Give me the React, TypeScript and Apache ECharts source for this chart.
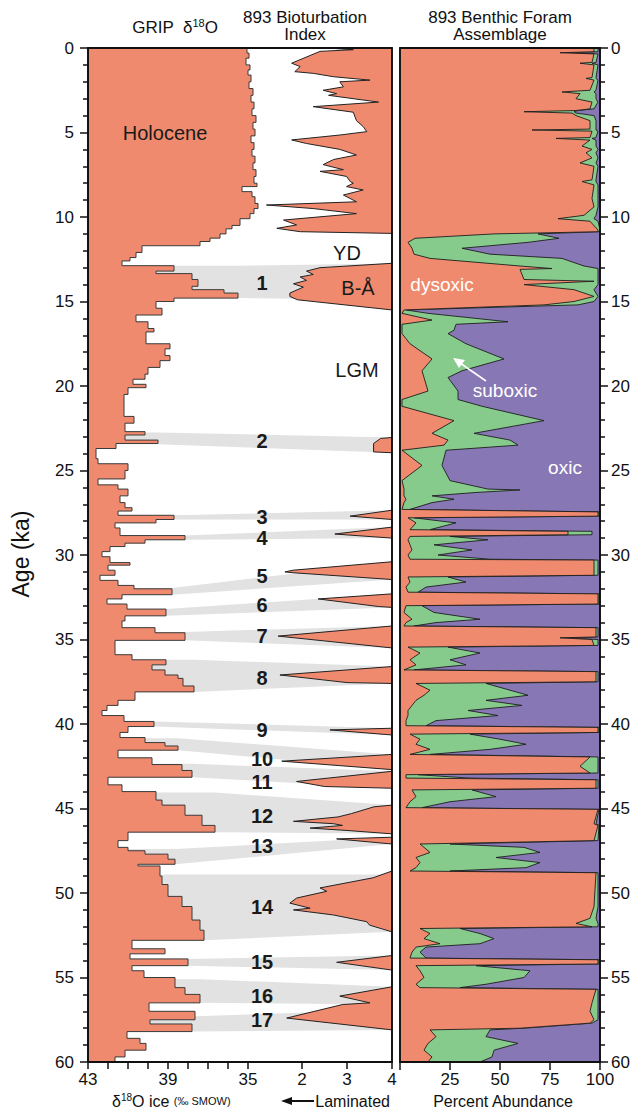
import React, { useEffect, useRef } from "react";
import * as echarts from "echarts";

// ---------- axis ranges ----------
const AGE_MIN = 0;
const AGE_MAX = 60;
const D18O_LEFT = 43; // value at left edge of the left panel (sign omitted)
const D18O_RIGHT = 27.8; // value at right edge of the left panel
const BIOT_RIGHT = 4;
const BIOT_LEFT = 4 - 304 / 45;

const d18oTicks = [43, 42, 41, 40, 39, 38, 37, 36, 35];
const d18oTickLabels = [43, 39, 35];
const biotTicks = [2, 3, 4];
const ageTickInterval = 5;

// ---------- GRIP δ18O (step start age, ka ; value ‰, sign omitted) ----------
const gripAge = [
  0, 0.3, 0.6, 1.0, 1.3, 1.6, 2.0, 2.4, 2.8, 3.2, 3.6, 4.0, 4.4, 4.8, 5.2, 5.6, 6.0, 6.4, 6.8, 7.2, 7.6, 8.0, 8.2, 8.5, 8.8,
  9.2, 9.5, 9.8, 10.1, 10.5, 10.7, 11.0, 11.25, 11.45, 11.7, 12.1, 12.4, 12.6, 12.88, 13.2, 13.35, 13.7, 14.1, 14.3, 14.5,
  14.8, 15.0, 15.4, 15.8, 16.2, 16.6, 16.8, 17.5, 17.8, 18.2, 18.5, 18.9, 19.3, 19.6, 19.9, 20.1, 20.5, 21.8, 22.2, 22.7,
  22.9, 23.2, 23.4, 23.7, 24.3, 24.6, 25.0, 25.5, 25.85, 26.1, 26.5, 26.9, 27.2, 27.4, 27.65, 27.9, 28.1, 28.4, 28.85, 29.1,
  29.3, 29.5, 29.8, 30.1, 30.45, 30.6, 30.9, 31.2, 31.5, 31.8, 32.0, 32.35, 32.6, 32.9, 33.2, 33.6, 33.9, 34.3, 34.6, 35.05,
  35.9, 36.2, 36.5, 36.8, 37.1, 37.3, 37.75, 38.1, 38.6, 38.9, 39.2, 39.5, 39.85, 40.15, 40.5, 40.8, 41.1, 41.3, 41.55, 42.0,
  42.4, 42.75, 43.15, 43.6, 44.0, 44.5, 44.8, 45.4, 46.0, 46.4, 46.9, 47.3, 47.5, 47.7, 48.0, 48.3, 48.4, 49.0, 49.5, 50.2,
  50.8, 51.6, 52.2, 52.8, 53.3, 53.6, 53.9, 54.3, 54.6, 55.0, 55.6, 56.0, 56.5, 57.0, 57.5, 57.75, 58.2, 58.6, 58.9, 59.3,
  59.7,
];
const gripD18O = [
  35.05, 34.95, 35.1, 34.9, 35.0, 34.85, 34.95, 34.75, 34.85, 34.7, 34.8, 34.6, 34.75, 34.65, 34.85, 34.7, 34.8, 34.65, 34.75,
  34.6, 34.7, 34.55, 35.3, 34.8, 34.65, 34.5, 34.7, 34.9, 35.4, 35.8, 36.1, 36.4, 36.9, 37.4, 40.3, 40.6, 40.9, 41.3, 38.7,
  39.6, 37.8, 37.5, 37.8, 36.2, 35.5, 38.7, 39.6, 39.3, 40.6, 40.0, 39.7, 40.1, 38.9, 39.15, 38.9, 39.4, 40.0, 40.15, 40.75,
  40.1, 41.0, 41.2, 40.7, 41.15, 40.15, 41.15, 39.5, 41.6, 42.6, 42.5, 41.0, 41.15, 42.5, 41.5, 41.0, 41.4, 41.15, 40.8, 41.5,
  38.7, 39.6, 41.65, 41.4, 38.15, 40.15, 41.15, 41.9, 42.3, 41.9, 40.9, 42.0, 41.65, 42.4, 41.5, 40.7, 38.8, 41.3, 42.05,
  41.05, 39.1, 41.15, 41.3, 39.65, 38.15, 41.65, 40.8, 39.1, 39.8, 39.15, 38.5, 38.25, 37.7, 40.65, 41.5, 42.05, 42.3, 41.2,
  39.7, 41.0, 41.4, 40.15, 39.15, 38.5, 41.5, 39.8, 38.3, 37.8, 42.0, 41.3, 39.6, 39.3, 38.15, 37.3, 36.65, 41.0, 41.5, 41.0,
  40.15, 39.0, 38.65, 40.5, 39.4, 39.3, 39.0, 38.3, 37.8, 37.4, 37.2, 40.8, 39.15, 40.9, 38.0, 40.8, 40.2, 38.65, 38.15, 37.4,
  39.95, 37.65, 39.9, 37.8, 41.05, 40.4, 40.1, 41.15, 41.65,
];

// ---------- 893 Bioturbation index (age ka ; index) ----------
const biotAge = [
  0, 0.1, 0.2, 0.9, 1.1, 1.4, 1.5, 1.7, 1.9, 2.0, 2.3, 2.5, 2.7, 2.8, 3.2, 3.47, 3.8, 4.3, 4.65, 4.95, 5.15, 5.44, 5.65, 6.0,
  6.33, 6.6, 6.9, 7.2, 7.3, 7.6, 7.9, 8.0, 8.2, 8.4, 8.7, 9.1, 9.29, 9.5, 9.8, 10.18, 10.47, 10.67, 10.87, 10.97, 12.74, 13.0,
  13.2, 13.4, 13.55, 13.75, 13.95, 14.15, 14.5, 14.7, 14.9, 15.5, 23.05, 23.1, 23.4, 23.9, 23.95, 27.35, 27.7, 27.9, 28.35,
  28.76, 29.0, 30.4, 30.9, 31.0, 31.05, 31.45, 32.3, 32.6, 33.05, 33.1, 34.2, 34.8, 35.5, 36.6, 37.1, 37.55, 37.6, 40.25,
  40.35, 40.65, 41.8, 42.2, 42.7, 42.8, 43.4, 43.7, 43.8, 44.8, 44.9, 45.3, 45.5, 45.76, 45.9, 46.0, 46.16, 46.3, 46.5, 46.7,
  46.8, 47.1, 48.7, 49.1, 49.7, 49.9, 50.3, 50.6, 50.9, 51.0, 51.3, 51.7, 51.9, 52.3, 53.7, 54.1, 54.56, 55.55, 56.1, 56.5,
  56.6, 57.4, 58.1, 60,
];
const biotIndex = [
  2.55, 3.14, 2.4, 1.77, 1.96, 1.84, 2.25, 2.7, 3.51, 2.84, 2.92, 2.47, 2.77, 2.59, 3.7, 2.25, 3.14, 3.21, 3.36, 3.44, 2.84,
  1.77, 2.1, 2.84, 3.21, 2.7, 2.47, 2.92, 2.4, 2.99, 3.07, 3.14, 2.99, 3.36, 2.92, 3.21, 1.21, 2.25, 3.21, 1.59, 1.88, 1.44,
  1.96, 4, 4, 2.4, 2.1, 2.25, 1.96, 2.1, 1.81, 2.03, 1.73, 1.73, 1.9, 4, 4, 3.75, 3.59, 3.59, 4, 4, 3.07, 4, 4, 2.73, 4, 4,
  1.8, 1.62, 1.8, 4, 4, 2.36, 3.7, 4, 4, 1.47, 4, 4, 1.51, 3.0, 4, 4, 2.62, 4, 4, 1.55, 4, 4, 1.88, 2.5, 4, 4, 3.6, 3.1, 2.8,
  1.81, 2.7, 2.9, 2.18, 3.0, 4, 4, 2.77, 4, 4, 3.58, 2.4, 2.55, 1.88, 1.73, 2.18, 1.81, 2.7, 3.44, 3.5, 4, 4, 2.77, 4, 4, 2.84,
  3.51, 2.9, 1.66, 4, 4,
];

// ---------- 893 Benthic foram assemblage (age ka ; % dysoxic ; % suboxic ; remainder oxic) ----------
const foramAge = [
  0.0, 0.22, 0.28, 0.35, 0.85, 0.9, 1.0, 1.75, 1.8, 1.9, 2.5, 2.6, 2.7, 3.0, 3.2, 3.6, 3.7, 3.77, 3.85, 4.0, 4.3, 4.8, 4.85,
  4.92, 5.3, 5.35, 5.45, 5.8, 6.0, 6.2, 6.5, 6.8, 7.0, 7.8, 7.9, 8.1, 8.9, 9.4, 9.9, 10.1, 10.25, 10.77, 10.87, 11.0, 11.26,
  11.5, 11.85, 12.2, 12.45, 12.9, 13.05, 13.1, 13.7, 13.8, 14.0, 14.3, 14.7, 15.0, 15.2, 15.5, 15.7, 16.1, 16.2, 16.35, 16.7,
  16.9, 17.5, 18.4, 19.1, 19.5, 20.3, 20.8, 21.2, 22.05, 22.8, 23.2, 23.5, 23.8, 24.7, 25.6, 26.1, 26.15, 26.3, 26.5, 26.7,
  26.9, 27.3, 27.45, 27.7, 27.8, 28.1, 28.5, 28.6, 28.8, 28.9, 29.1, 29.4, 29.7, 30.0, 30.25, 30.3, 31.2, 31.3, 31.6, 31.9,
  32.2, 32.3, 32.9, 33.0, 33.4, 33.8, 34.0, 34.2, 34.3, 34.85, 34.9, 35.0, 35.35, 35.45, 35.8, 36.2, 36.5, 36.8, 36.9, 37.5,
  37.6, 38.0, 38.3, 38.6, 38.9, 39.2, 39.5, 39.8, 40.1, 40.2, 40.5, 40.6, 40.9, 41.2, 41.5, 41.8, 41.95, 42.5, 42.9, 43.0,
  43.2, 43.3, 43.8, 43.9, 44.3, 44.6, 44.95, 45.05, 45.9, 46.0, 46.9, 47.1, 47.3, 47.6, 47.9, 48.2, 48.5, 48.7, 48.8, 50.8,
  51.5, 51.8, 52.0, 52.1, 52.4, 52.7, 53.0, 53.2, 53.5, 53.85, 53.95, 54.2, 54.3, 54.6, 55.0, 55.4, 55.6, 55.7, 56.5, 57.0,
  57.5, 57.7, 58.0, 58.1, 58.5, 58.9, 59.3, 59.7, 60,
];
const dysoxicPct = [
  97, 97, 80, 97, 96, 90, 97, 96, 93, 97, 95, 81, 90, 88, 96, 95, 88, 62, 86, 88, 95, 95, 66, 96, 95, 78, 95, 91, 96, 93, 96,
  90, 97, 96, 91, 97, 96, 97, 92, 79, 95, 99, 99, 47, 7.5, 4, 6, 7, 15, 60, 76, 60, 62, 97, 62, 87, 97, 87, 72, 2, 1, 16, 10,
  1, 1, 1, 5, 16, 11, 12, 14, 1, 1, 27, 16, 24, 22, 1, 11, 1, 2, 2, 2, 2, 3, 2, 1, 99, 99, 4, 8, 5, 84, 84, 5, 4, 5, 6, 4, 5,
  97, 97, 4, 5, 3, 4, 99, 99, 3, 2, 6, 3, 2, 98, 98, 80, 96, 97, 4, 10, 5, 8, 2, 98, 98, 8, 15, 12, 8, 6, 4, 4, 3, 3, 99, 99,
  5, 10, 8, 15, 5, 95, 90, 95, 3, 3, 98, 98, 6, 8, 5, 3, 99, 97, 99, 97, 10, 12, 15, 8, 10, 8, 5, 98, 97, 95, 88, 96, 10, 15,
  12, 20, 8, 6, 5, 99, 99, 8, 10, 12, 8, 10, 98, 96, 95, 97, 95, 60, 15, 18, 14, 12, 16, 14,
];
const suboxicPct = [
  2, 2, 3, 2, 2, 6, 2, 2, 5, 2, 3, 16, 8, 10, 3, 2, 1, 25, 2, 9, 3, 3, 32, 3, 3, 18, 3, 7, 3, 5, 3, 8, 2, 2, 7, 2, 3, 2, 6,
  18, 4, 1, 0.5, 22, 72, 60, 25, 38, 66, 32, 23, 39, 37, 2, 37, 10, 2, 10, 17, 1, 13, 30, 44, 27, 26, 23, 28, 36, 20, 12, 15,
  28, 40, 45, 21, 31, 37, 22, 10, 24, 42, 58, 36, 14, 24, 14, 4, 0.5, 0.5, 3, 20, 10, 12, 12, 20, 40, 12, 30, 15, 40, 2, 2,
  20, 28, 10, 5, 0.5, 0.5, 8, 15, 34, 15, 5, 1, 1, 1, 3, 2, 20, 30, 20, 25, 5, 1, 1, 35, 40, 52, 35, 55, 30, 45, 15, 10, 0.5,
  0.5, 30, 40, 55, 30, 10, 4, 9, 4, 6, 32, 1, 1, 30, 40, 20, 8, 0.5, 1, 0.5, 2, 15, 50, 55, 40, 60, 55, 20, 1, 2, 3, 11, 3,
  20, 25, 35, 20, 5, 4, 8, 0.5, 0.5, 30, 55, 50, 35, 20, 1, 3, 4, 2, 1, 2, 30, 25, 45, 35, 30, 26,
];

// ---------- correlation bands (GRIP interstadials ↔ bioturbation events) ----------
const bandNumbers = ["1", "2", "3", "4", "5", "6", "7", "8", "9", "10", "11", "12", "13", "14", "15", "16", "17"];
const bandGripTop = [12.88, 22.75, 27.65, 28.85, 31.95, 33.2, 34.55, 36.2, 39.85, 40.85, 42.35, 44.05, 47.4, 48.9, 53.9, 55.1, 57.3];
const bandGripBottom = [14.8, 23.45, 27.9, 29.1, 32.35, 33.6, 35.05, 38.1, 40.15, 41.55, 43.15, 46.4, 48.3, 52.8, 54.3, 56.5, 58.2];
const bandGripPeak = [35.5, 39.5, 38.7, 38.15, 38.8, 39.1, 38.15, 37.7, 39.7, 38.5, 37.8, 36.65, 38.65, 37.2, 38.0, 37.4, 37.65];
const bandBiotTop = [12.75, 23.05, 27.35, 28.35, 30.4, 32.3, 34.2, 36.6, 40.25, 41.8, 42.8, 44.8, 46.7, 48.9, 53.7, 55.55, 56.9];
const bandBiotBottom = [14.9, 23.95, 27.9, 29.0, 31.45, 33.1, 35.5, 37.6, 40.65, 42.7, 43.8, 46.5, 47.1, 52.3, 54.56, 56.6, 58.1];
const bandLabelAge = [13.9, 23.25, 27.75, 29.0, 31.24, 32.96, 34.8, 37.28, 40.36, 42.1, 43.45, 45.44, 47.22, 50.83, 54.08, 56.09, 57.51];
const bandLabelD18O = 34.3;

// ---------- period / assemblage labels ----------
const periodLabels = ["Holocene", "YD", "B-Å", "LGM"];
const periodD18O = [39.15, 30.05, 29.5, 29.55];
const periodAge = [5.03, 12.13, 14.2, 19.05];
const assemblageLabels = ["dysoxic", "suboxic", "oxic"];
const assemblagePct = [21, 52.5, 82.5];
const assemblageAge = [14.02, 20.24, 24.8];

const ORANGE = "#F08A6E";
const GREEN = "#86CB8C";
const PURPLE = "#8877B5";
const BAND = "#E2E2E2";
const INK = "#111111";
const REG = '"Liberation Sans", Arial, sans-serif';

function buildOption(): any {
  const tickStyle = { color: INK, width: 1.5 };
  const ageAxis = (grid: number, pos: "left" | "right") => ({
    gridIndex: grid,
    type: "value",
    position: pos,
    min: AGE_MIN,
    max: AGE_MAX,
    interval: ageTickInterval,
    inverse: true,
    axisLine: { show: true, onZero: false, lineStyle: tickStyle },
    axisTick: { show: true, length: 8, lineStyle: tickStyle },
    minorTick: { show: true, splitNumber: 5, length: 5, lineStyle: tickStyle },
    splitLine: { show: false },
    minorSplitLine: { show: false },
    axisLabel: { fontSize: 17, fontFamily: REG, color: INK, margin: pos === "left" ? 14 : 11 },
    z: 10,
  });

  return {
    animation: false,
    backgroundColor: "#ffffff",
    grid: [
      { left: 88, top: 48, width: 304, height: 1014, show: true, borderColor: INK, borderWidth: 1.8, z: 10 },
      { left: 400, top: 48, width: 200, height: 1014, show: true, borderColor: INK, borderWidth: 1.8, z: 10 },
    ],
    xAxis: [
      {
        gridIndex: 0,
        type: "value",
        position: "bottom",
        min: D18O_RIGHT,
        max: D18O_LEFT,
        inverse: true,
        axisLine: { show: true, onZero: false, lineStyle: tickStyle },
        axisTick: { show: true, length: 7, customValues: d18oTicks, lineStyle: tickStyle },
        axisLabel: { customValues: d18oTickLabels, fontSize: 17, fontFamily: REG, color: INK, margin: 9, showMaxLabel: true },
        splitLine: { show: false },
        z: 10,
      },
      {
        gridIndex: 0,
        type: "value",
        position: "bottom",
        min: BIOT_LEFT,
        max: BIOT_RIGHT,
        axisLine: { show: false, onZero: false },
        axisTick: { show: true, length: 7, customValues: biotTicks, lineStyle: tickStyle },
        axisLabel: { customValues: biotTicks, fontSize: 17, fontFamily: REG, color: INK, margin: 9, showMaxLabel: true },
        splitLine: { show: false },
        z: 10,
      },
      {
        gridIndex: 1,
        type: "value",
        position: "bottom",
        min: 0,
        max: 100,
        interval: 25,
        axisLine: { show: true, onZero: false, lineStyle: tickStyle },
        axisTick: { show: true, length: 8, lineStyle: tickStyle },
        axisLabel: {
          fontSize: 17,
          fontFamily: REG,
          color: INK,
          margin: 9,
          formatter: (v: number) => (v === 0 ? "" : String(v)),
        },
        splitLine: { show: false },
        z: 10,
      },
    ],
    yAxis: [ageAxis(0, "left"), ageAxis(1, "right")],
    series: [
      // correlation bands
      {
        type: "custom",
        xAxisIndex: 0,
        yAxisIndex: 0,
        z: 1,
        data: bandNumbers.map((_, i) => [D18O_LEFT, bandGripTop[i], i]),
        renderItem: (_p: any, api: any) => {
          const i = api.value(2);
          const pts = [
            api.coord([D18O_LEFT, bandGripTop[i]]),
            api.coord([bandGripPeak[i], bandGripTop[i]]),
            api.coord([D18O_RIGHT, bandBiotTop[i]]),
            api.coord([D18O_RIGHT, bandBiotBottom[i]]),
            api.coord([bandGripPeak[i], bandGripBottom[i]]),
            api.coord([D18O_LEFT, bandGripBottom[i]]),
          ];
          return { type: "polygon", shape: { points: pts }, style: { fill: BAND } };
        },
      },
      // GRIP δ18O steps
      {
        type: "custom",
        xAxisIndex: 0,
        yAxisIndex: 0,
        z: 2,
        data: [[D18O_LEFT, 0]],
        renderItem: (_p: any, api: any) => {
          const pts: number[][] = [api.coord([D18O_LEFT, AGE_MIN])];
          for (let i = 0; i < gripAge.length; i++) {
            const a1 = i + 1 < gripAge.length ? gripAge[i + 1] : AGE_MAX;
            pts.push(api.coord([gripD18O[i], gripAge[i]]));
            pts.push(api.coord([gripD18O[i], a1]));
          }
          pts.push(api.coord([D18O_LEFT, AGE_MAX]));
          return { type: "polygon", shape: { points: pts }, style: { fill: ORANGE, stroke: "#3a3a3a", lineWidth: 1 } };
        },
      },
      // bioturbation index
      {
        type: "custom",
        xAxisIndex: 1,
        yAxisIndex: 0,
        z: 2,
        data: [[BIOT_RIGHT, 0]],
        renderItem: (_p: any, api: any) => {
          const pts: number[][] = [api.coord([BIOT_RIGHT, AGE_MIN])];
          for (let i = 0; i < biotAge.length; i++) pts.push(api.coord([biotIndex[i], biotAge[i]]));
          pts.push(api.coord([BIOT_RIGHT, AGE_MAX]));
          return { type: "polygon", shape: { points: pts }, style: { fill: ORANGE, stroke: "#222", lineWidth: 1 } };
        },
      },
      // left-panel labels
      {
        type: "custom",
        xAxisIndex: 0,
        yAxisIndex: 0,
        z: 5,
        data: [
          ...periodLabels.map((_, i) => [periodD18O[i], periodAge[i], i, 0]),
          ...bandNumbers.map((_, i) => [bandLabelD18O, bandLabelAge[i], i, 1]),
        ],
        renderItem: (_p: any, api: any) => {
          const i = api.value(2);
          const kind = api.value(3);
          const p = api.coord([api.value(0), api.value(1)]);
          return {
            type: "text",
            x: p[0],
            y: p[1],
            style: {
              text: kind === 0 ? periodLabels[i] : bandNumbers[i],
              fill: "#1a1a1a",
              fontSize: kind === 0 ? 20 : 20,
              lineHeight: 19,
              fontWeight: kind === 0 ? "normal" : "bold",
              fontFamily: REG,
              align: "center",
              verticalAlign: "middle",
            },
          };
        },
      },
      // foram assemblage stacked areas
      {
        type: "custom",
        xAxisIndex: 2,
        yAxisIndex: 1,
        z: 2,
        data: [[0, 0]],
        renderItem: (_p: any, api: any) => {
          const oxic = [
            api.coord([0, AGE_MIN]),
            api.coord([100, AGE_MIN]),
            api.coord([100, AGE_MAX]),
            api.coord([0, AGE_MAX]),
          ];
          const sub: number[][] = [api.coord([0, AGE_MIN])];
          const dys: number[][] = [api.coord([0, AGE_MIN])];
          for (let i = 0; i < foramAge.length; i++) {
            sub.push(api.coord([dysoxicPct[i] + suboxicPct[i], foramAge[i]]));
            dys.push(api.coord([dysoxicPct[i], foramAge[i]]));
          }
          sub.push(api.coord([0, AGE_MAX]));
          dys.push(api.coord([0, AGE_MAX]));
          return {
            type: "group",
            children: [
              { type: "polygon", shape: { points: oxic }, style: { fill: PURPLE } },
              { type: "polygon", shape: { points: sub }, style: { fill: GREEN, stroke: "#1e1e1e", lineWidth: 0.9 } },
              { type: "polygon", shape: { points: dys }, style: { fill: ORANGE, stroke: "#1e1e1e", lineWidth: 0.9 } },
            ],
          };
        },
      },
      // right-panel labels
      {
        type: "custom",
        xAxisIndex: 2,
        yAxisIndex: 1,
        z: 5,
        data: assemblageLabels.map((_, i) => [assemblagePct[i], assemblageAge[i], i]),
        renderItem: (_p: any, api: any) => {
          const i = api.value(2);
          const p = api.coord([api.value(0), api.value(1)]);
          return {
            type: "text",
            x: p[0],
            y: p[1],
            style: {
              text: assemblageLabels[i],
              fill: "#ffffff",
              fontSize: 19,
              fontFamily: REG,
              align: "center",
              verticalAlign: "middle",
            },
          };
        },
      },
    ],
    graphic: [
      {
        type: "text",
        x: 175,
        y: 27,
        style: {
          text: "{n|GRIP  δ}{s|18}{n|O}",
          rich: {
            n: { fontSize: 17, fontFamily: REG, fill: INK },
            s: { fontSize: 11, fontFamily: REG, fill: INK, verticalAlign: "top", padding: [0, 0, 8, 0] },
          },
          align: "center",
          verticalAlign: "middle",
        },
      },
      {
        type: "text",
        x: 305,
        y: 26,
        style: {
          text: "893 Bioturbation\nIndex",
          fontSize: 17,
          lineHeight: 17,
          fontFamily: REG,
          fill: INK,
          align: "center",
          verticalAlign: "middle",
        },
      },
      {
        type: "text",
        x: 500,
        y: 26,
        style: {
          text: "893 Benthic Foram\nAssemblage",
          fontSize: 17,
          lineHeight: 17,
          fontFamily: REG,
          fill: INK,
          align: "center",
          verticalAlign: "middle",
        },
      },
      {
        type: "text",
        x: 21,
        y: 554,
        rotation: Math.PI / 2,
        style: {
          text: "Age (ka)",
          fontSize: 23,
          fontFamily: REG,
          fill: INK,
          align: "center",
          verticalAlign: "middle",
        },
      },
      {
        type: "text",
        x: 112,
        y: 1101,
        style: {
          text: "{n|δ}{s|18}{n|O ice }{m|(‰ SMOW)}",
          rich: {
            n: { fontSize: 16, fontFamily: REG, fill: INK },
            s: { fontSize: 10, fontFamily: REG, fill: INK, verticalAlign: "top", padding: [0, 0, 7, 0] },
            m: { fontSize: 11, fontFamily: REG, fill: INK },
          },
          align: "left",
          verticalAlign: "middle",
        },
      },
      {
        type: "text",
        x: 390,
        y: 1101,
        style: { text: "Laminated", fontSize: 16, fontFamily: REG, fill: INK, align: "right", verticalAlign: "middle" },
      },
      { type: "line", shape: { x1: 289, y1: 1101, x2: 314, y2: 1101 }, style: { stroke: INK, lineWidth: 2 } },
      { type: "polygon", shape: { points: [[281, 1101], [292, 1097], [292, 1105]] }, style: { fill: INK } },
      {
        type: "text",
        x: 503,
        y: 1101,
        style: { text: "Percent Abundance", fontSize: 16, fontFamily: REG, fill: INK, align: "center", verticalAlign: "middle" },
      },
      { type: "line", z: 20, shape: { x1: 486, y1: 381, x2: 460, y2: 363 }, style: { stroke: "#fff", lineWidth: 1.6 } },
      { type: "polygon", z: 20, shape: { points: [[453, 358], [465, 360], [459, 368]] }, style: { fill: "#fff" } },
    ],
  };
}

export default function App() {
  const ref = useRef<HTMLDivElement>(null);
  useEffect(() => {
    if (!ref.current) return;
    const chart = echarts.init(ref.current, null, { renderer: "svg" });
    chart.setOption(buildOption());
    return () => chart.dispose();
  }, []);
  return (
    <div
      ref={ref}
      style={{ position: "fixed", left: 0, top: 0, width: 638, height: 1115, background: "#fff" }}
    />
  );
}
